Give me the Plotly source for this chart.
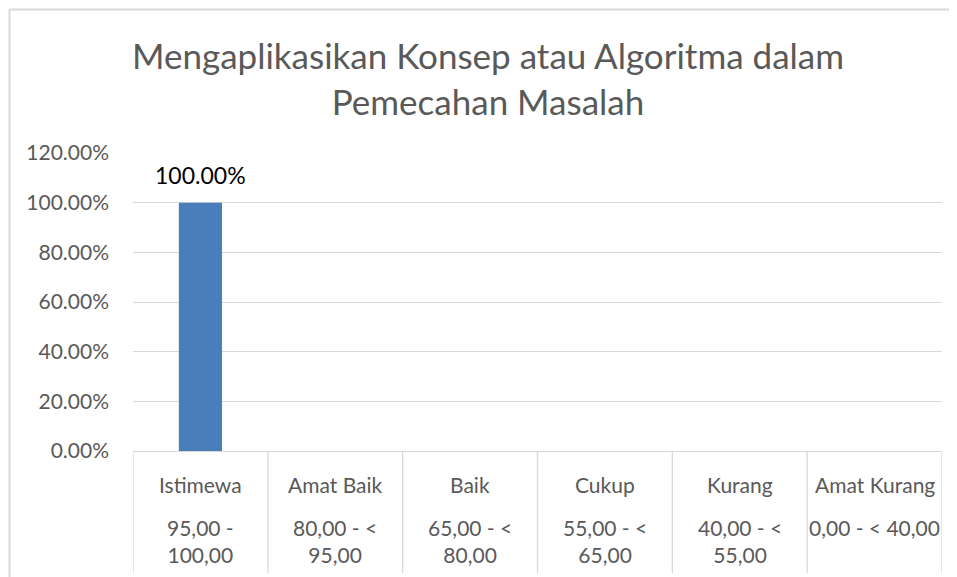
import plotly.graph_objects as go

categories = ["Istimewa", "Amat Baik", "Baik", "Cukup", "Kurang", "Amat Kurang"]
ranges = ["95,00 -<br>100,00", "80,00 - <<br>95,00", "65,00 - <<br>80,00",
          "55,00 - <<br>65,00", "40,00 - <<br>55,00", "0,00 - < 40,00"]
values = [1.0, None, None, None, None, None]
labels = ["100.00%", "", "", "", "", ""]
tick_vals = [0, 0.2, 0.4, 0.6, 0.8, 1.0, 1.2]

FONT = "Lato"
GREY = "#595959"
LINE = "#d9d9d9"

# page body has an 8px margin; size the figure to the visible area
W, H = 949, 569
L, R, T, B = 125, 15, 145, 126
pw = W - L - R
ph = H - T - B

x_idx = list(range(len(categories)))

fig = go.Figure()
fig.add_trace(go.Bar(
    x=x_idx, y=values, width=0.32,
    marker=dict(color="#4a7ebb", line=dict(width=0)),
    cliponaxis=False,
))

annotations = []
for i, (v, t) in enumerate(zip(values, labels)):
    if v is not None and t:
        annotations.append(dict(x=i, y=v, xref="x", yref="y", text=t,
                                showarrow=False, yanchor="bottom", yshift=12,
                                font=dict(family=FONT, size=23, color="#000000")))
for i, (c, r) in enumerate(zip(categories, ranges)):
    annotations.append(dict(x=i, y=0, xref="x", yref="paper", text=c,
                            showarrow=False, yanchor="middle", yshift=-33,
                            font=dict(family=FONT, size=21, color=GREY)))
    annotations.append(dict(x=i, y=0, xref="x", yref="paper", text=r,
                            showarrow=False, yanchor="top", yshift=-62,
                            font=dict(family=FONT, size=21, color=GREY)))

shapes = []
for k in range(len(categories) + 1):
    shapes.append(dict(type="line", xref="x", yref="paper", ysizemode="pixel",
                       yanchor=0, x0=k - 0.5, x1=k - 0.5, y0=0, y1=-122,
                       line=dict(color=LINE, width=1.3)))
# outer chart border (top and left)
bx, by = 1.5, 1.5
shapes.append(dict(type="line", xref="paper", yref="paper",
                   x0=(bx - L) / pw, x1=(W + 5 - L) / pw,
                   y0=(H - B - by) / ph, y1=(H - B - by) / ph,
                   line=dict(color=LINE, width=2)))
shapes.append(dict(type="line", xref="paper", yref="paper",
                   x0=(bx - L) / pw, x1=(bx - L) / pw,
                   y0=(H - B - by) / ph, y1=-(B + 5) / ph,
                   line=dict(color=LINE, width=2)))

fig.update_layout(
    width=W, height=H,
    margin=dict(l=L, r=R, t=T, b=B),
    paper_bgcolor="white", plot_bgcolor="white",
    showlegend=False,
    title=dict(text="Mengaplikasikan Konsep atau Algoritma dalam<br>Pemecahan Masalah",
               x=480 / W, xanchor="center", y=1 - 61 / H, yanchor="top",
               font=dict(family=FONT, size=35, color=GREY)),
    xaxis=dict(range=[-0.5, 5.5], showticklabels=False, showgrid=False,
               zeroline=False, showline=True, linecolor=LINE, linewidth=1.3,
               fixedrange=True),
    yaxis=dict(range=[0, 1.2], tickvals=tick_vals, tickformat=".2%",
               showgrid=True, gridcolor=LINE, gridwidth=1.3, zeroline=False,
               showline=False, ticks="", ticklabelstandoff=23,
               tickfont=dict(family=FONT, size=21, color=GREY)),
    annotations=annotations,
    shapes=shapes,
    bargap=0.68,
)

fig.write_html("out.html")
